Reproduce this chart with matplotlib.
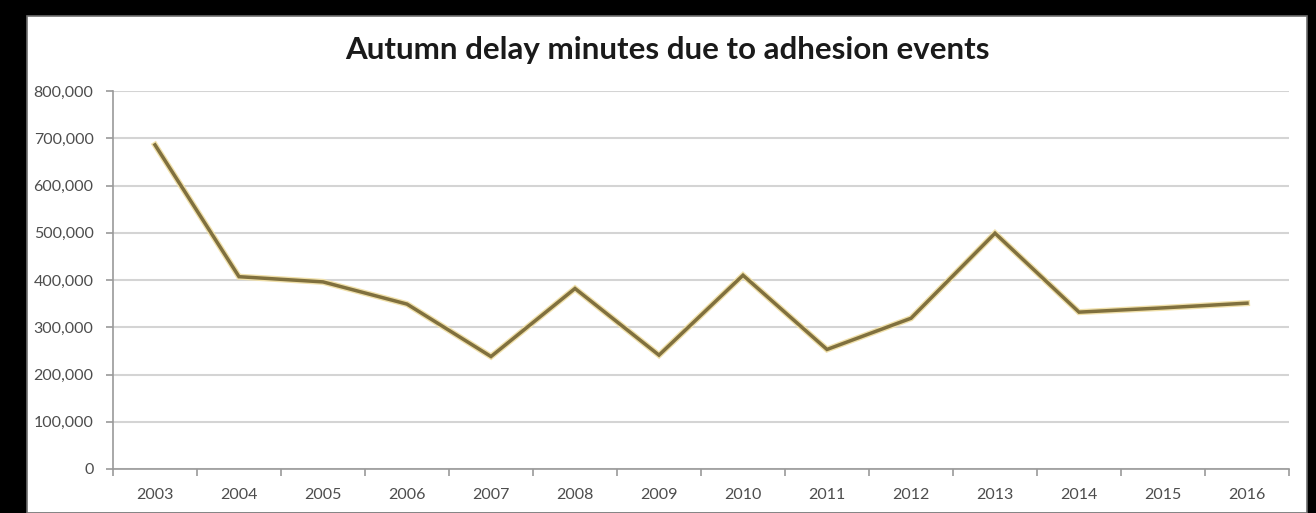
import matplotlib.pyplot as plt
from matplotlib.patches import Rectangle
from matplotlib.ticker import FuncFormatter, MultipleLocator

years = ['2003', '2004', '2005', '2006', '2007', '2008', '2009',
         '2010', '2011', '2012', '2013', '2014', '2015', '2016']
delay_minutes = [686000, 407000, 396000, 349000, 238000, 382000, 241000,
                 410000, 253000, 319000, 499000, 332000, 341000, 351000]

plt.rcParams['font.family'] = ['Lato', 'DejaVu Sans']

fig = plt.figure(figsize=(13.16, 5.13), dpi=100, facecolor='black')

# white chart panel on the black background
panel = Rectangle((27 / 1316, 0), (1307 - 27) / 1316, 1 - 16 / 513,
                  transform=fig.transFigure, facecolor='white',
                  edgecolor='#6e6e6e', linewidth=1.2, zorder=-10)
fig.patches.append(panel)

ax = fig.add_axes([113 / 1316, 1 - 469 / 513, (1289 - 113) / 1316, (469 - 91) / 513])
ax.patch.set_visible(False)

x = list(range(len(years)))
ax.plot(x, delay_minutes, color='#f0e0aa', linewidth=4.4, solid_joinstyle='miter', zorder=2)
ax.plot(x, delay_minutes, color='#80703e', linewidth=2.5, solid_joinstyle='miter', zorder=3)

ax.set_xlim(-0.5, len(years) - 0.5)
ax.set_ylim(0, 800000)
ax.yaxis.set_major_locator(MultipleLocator(100000))
ax.yaxis.set_major_formatter(FuncFormatter(lambda v, p: f'{int(v):,}'))
ax.grid(axis='y', color='#d4d4d4', linewidth=1.5)
ax.set_axisbelow(True)

ax.set_xticks(x)
ax.set_xticklabels(years)
ax.set_xticks([i - 0.5 for i in range(len(years) + 1)], minor=True)
ax.tick_params(axis='x', which='major', length=0, pad=14, labelsize=11.5, labelcolor='#4d4d4d')
ax.tick_params(axis='x', which='minor', length=5, color='#9a9a9a', width=1.2)
ax.tick_params(axis='y', length=5, color='#9a9a9a', width=1.2, pad=9,
               labelsize=11.5, labelcolor='#4d4d4d')

for side in ['top', 'right']:
    ax.spines[side].set_visible(False)
ax.spines['left'].set_color('#9a9a9a')
ax.spines['bottom'].set_color('#9a9a9a')
ax.spines['left'].set_linewidth(1.2)
ax.spines['bottom'].set_linewidth(1.2)

fig.text(667 / 1316, 1 - 50 / 513, 'Autumn delay minutes due to adhesion events',
         ha='center', va='center', fontsize=22.5, fontweight='bold', color='#1a1a1a')

fig.savefig('out.png', dpi=100, facecolor='black')
